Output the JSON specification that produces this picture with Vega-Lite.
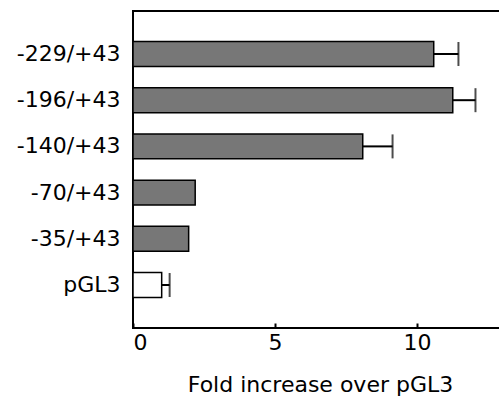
{
  "$schema": "https://vega.github.io/schema/vega-lite/v6.json",
  "autosize": "none",
  "padding": {"left": 133, "top": 11, "right": 0, "bottom": 79},
  "width": 374,
  "height": 317,
  "background": "white",
  "config": {
    "view": {"stroke": "black", "strokeWidth": 2},
    "font": "DejaVu Sans"
  },
  "data": {
    "values": [
      {"construct": "-229/+43", "fold": 10.59, "upper": 11.46, "kind": "deletion"},
      {"construct": "-196/+43", "fold": 11.26, "upper": 12.06, "kind": "deletion"},
      {"construct": "-140/+43", "fold": 8.09, "upper": 9.14, "kind": "deletion"},
      {"construct": "-70/+43", "fold": 2.19, "upper": 2.19, "kind": "deletion"},
      {"construct": "-35/+43", "fold": 1.96, "upper": 1.96, "kind": "deletion"},
      {"construct": "pGL3", "fold": 1.01, "upper": 1.29, "kind": "vector"}
    ]
  },
  "encoding": {
    "y": {
      "field": "construct",
      "type": "nominal",
      "sort": null,
      "scale": {"paddingInner": 0.46, "paddingOuter": 0.66},
      "axis": {
        "title": null,
        "ticks": false,
        "domain": false,
        "labelFontSize": 22,
        "labelPadding": 13,
        "labelColor": "black"
      }
    }
  },
  "layer": [
    {
      "mark": {"type": "bar", "stroke": "black", "strokeWidth": 1.5},
      "encoding": {
        "x": {
          "field": "fold",
          "type": "quantitative",
          "scale": {"domain": [0, 13.17], "nice": false},
          "axis": {
            "title": "Fold increase over pGL3",
            "values": [0, 5, 10],
            "grid": false,
            "domain": false,
            "tickSize": -5,
            "tickWidth": 2,
            "tickColor": "black",
            "labelFontSize": 22,
            "labelPadding": 9,
            "labelColor": "black",
            "titleFontSize": 22,
            "titleFontWeight": "normal",
            "titleColor": "black",
            "titlePadding": 21
          }
        },
        "fill": {
          "field": "kind",
          "type": "nominal",
          "scale": {"domain": ["deletion", "vector"], "range": ["#777777", "white"]},
          "legend": null
        }
      }
    },
    {
      "transform": [{"filter": "datum.upper > datum.fold"}],
      "mark": {"type": "rule", "strokeWidth": 2, "color": "black"},
      "encoding": {
        "x": {"field": "fold", "type": "quantitative"},
        "x2": {"field": "upper"}
      }
    },
    {
      "transform": [{"filter": "datum.upper > datum.fold"}],
      "mark": {"type": "tick", "orient": "vertical", "size": 24, "thickness": 2, "color": "black"},
      "encoding": {
        "x": {"field": "upper", "type": "quantitative"}
      }
    }
  ]
}
